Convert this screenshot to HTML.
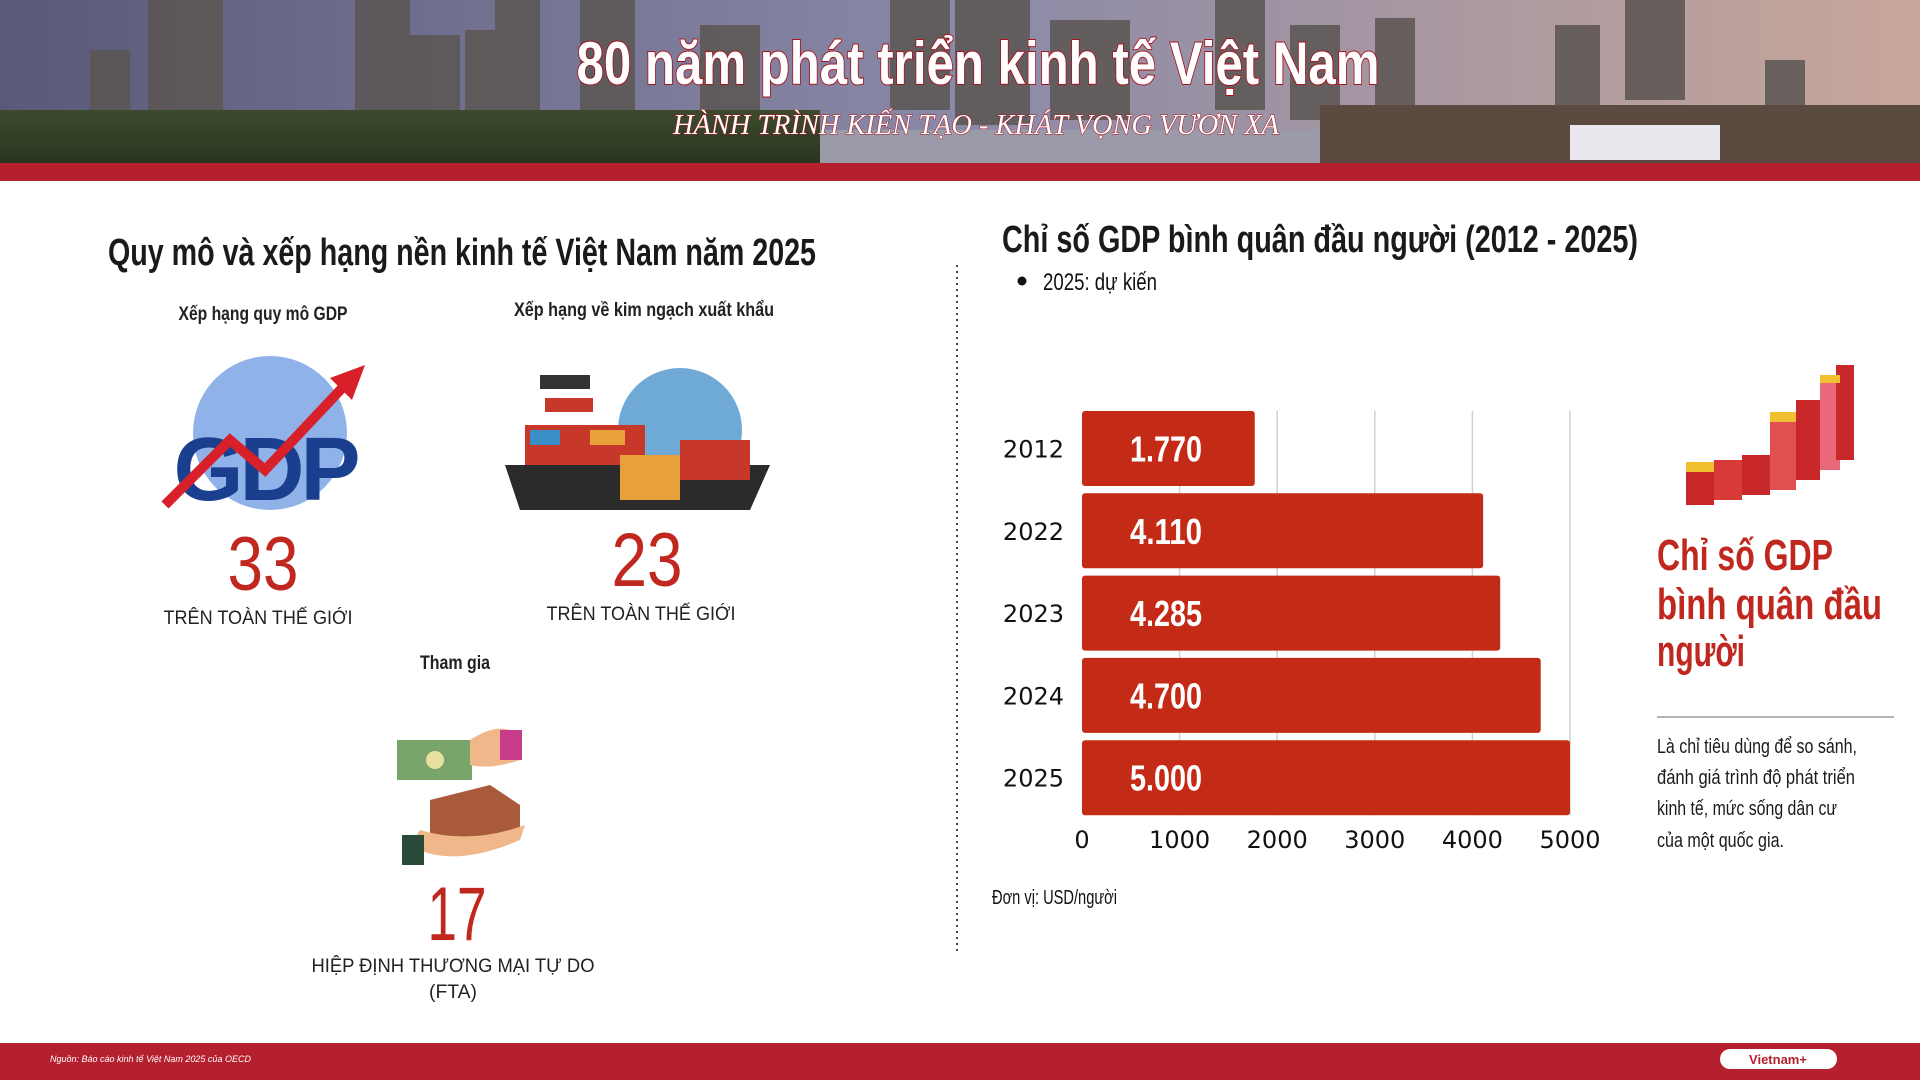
<!DOCTYPE html>
<html><head><meta charset="utf-8"><style>
html,body{margin:0;padding:0;width:1920px;height:1080px;overflow:hidden;background:#fff}
svg{display:block}
.c{font-family:"Liberation Sans Narrow","Liberation Sans",sans-serif}
</style></head><body>
<svg id="s" width="1920" height="1080" viewBox="0 0 1920 1080" xmlns="http://www.w3.org/2000/svg">
<defs>
<linearGradient id="sky" x1="0" y1="0" x2="1" y2="0"><stop offset="0" stop-color="#5a5a78"/><stop offset="0.5" stop-color="#8a8aa8"/><stop offset="1" stop-color="#c8a69a"/></linearGradient>
<linearGradient id="ground" x1="0" y1="0" x2="0" y2="1"><stop offset="0" stop-color="#3c4a2c"/><stop offset="1" stop-color="#2a3520"/></linearGradient>
</defs>
<g>
<rect x="0" y="0" width="1920" height="165" fill="url(#sky)"/>
<g fill="#5b5552" opacity="0.85">
<rect x="148" y="0" width="75" height="110"/><rect x="90" y="50" width="40" height="70"/><rect x="355" y="0" width="55" height="120"/><rect x="400" y="35" width="60" height="90"/><rect x="465" y="30" width="40" height="95"/><rect x="495" y="0" width="45" height="125"/><rect x="580" y="0" width="55" height="110"/><rect x="700" y="25" width="60" height="100"/><rect x="890" y="0" width="60" height="110"/><rect x="955" y="0" width="75" height="125"/><rect x="1050" y="20" width="80" height="100"/><rect x="1215" y="0" width="50" height="110"/><rect x="1290" y="25" width="50" height="95"/><rect x="1375" y="18" width="40" height="100"/><rect x="1555" y="25" width="45" height="90"/><rect x="1625" y="0" width="60" height="100"/><rect x="1765" y="60" width="40" height="60"/>
</g>
<rect x="0" y="110" width="820" height="55" fill="url(#ground)"/>
<rect x="820" y="130" width="500" height="35" fill="#9a9aa8"/>
<rect x="1320" y="105" width="600" height="60" fill="#5a4a40"/>
<rect x="1570" y="125" width="150" height="35" fill="#e8e8ee"/>
<rect x="0" y="163" width="1920" height="18" fill="#b5202e"/>
<text x="978" y="84" text-anchor="middle" textLength="803" lengthAdjust="spacingAndGlyphs" class="c" font-size="60" font-weight="bold" fill="#fff" stroke="#a8121c" stroke-width="2" paint-order="stroke">80 năm phát triển kinh tế Việt Nam</text>
<text x="976" y="134" text-anchor="middle" textLength="606" lengthAdjust="spacingAndGlyphs" font-family="Liberation Serif,serif" font-style="italic" font-size="28" fill="#fff" stroke="#a8121c" stroke-width="1" paint-order="stroke">HÀNH TRÌNH KIẾN TẠO - KHÁT VỌNG VƯƠN XA</text>
</g>

<line x1="957" y1="265" x2="957" y2="955" stroke="#444" stroke-width="2" stroke-dasharray="2,4"/>

<g>
<text x="462" y="265" text-anchor="middle" textLength="708" lengthAdjust="spacingAndGlyphs" class="c" font-size="38" font-weight="bold" fill="#1a1a1a">Quy mô và xếp hạng nền kinh tế Việt Nam năm 2025</text>
<text x="263" y="320" text-anchor="middle" textLength="169" lengthAdjust="spacingAndGlyphs" class="c" font-size="19" font-weight="bold" fill="#222">Xếp hạng quy mô GDP</text>
<g>
<circle cx="270" cy="433" r="77" fill="#8fb2e8"/>
<text x="265" y="500" text-anchor="middle" font-family="Liberation Sans,sans-serif" font-weight="bold" font-size="90" fill="#1b3f8f" letter-spacing="-4">GDP</text>
<polyline points="165,505 230,440 265,470 345,385" fill="none" stroke="#d8202a" stroke-width="10"/>
<polygon points="365,365 330,378 352,400" fill="#d8202a"/>
</g>
<text x="263" y="590" text-anchor="middle" textLength="71" lengthAdjust="spacingAndGlyphs" class="c" font-size="76" fill="#c0281f">33</text>
<text x="258" y="624" text-anchor="middle" textLength="189" lengthAdjust="spacingAndGlyphs" class="c" font-size="19" fill="#222">TRÊN TOÀN THẾ GIỚI</text>

<text x="644" y="316" text-anchor="middle" textLength="260" lengthAdjust="spacingAndGlyphs" class="c" font-size="19" font-weight="bold" fill="#222">Xếp hạng về kim ngạch xuất khẩu</text>
<g>
<circle cx="680" cy="430" r="62" fill="#6fa9d6"/>
<polygon points="505,465 770,465 750,510 520,510" fill="#2b2b2b"/>
<rect x="525" y="425" width="120" height="40" fill="#c8382a"/><rect x="530" y="430" width="30" height="15" fill="#3a8fc7"/><rect x="590" y="430" width="35" height="15" fill="#e8a13a"/>
<rect x="680" y="440" width="70" height="40" fill="#c8382a"/><rect x="620" y="455" width="60" height="45" fill="#e8a13a"/>
<rect x="540" y="375" width="50" height="14" fill="#333"/><rect x="545" y="398" width="48" height="14" fill="#c8382a"/>
</g>
<text x="647" y="586" text-anchor="middle" textLength="71" lengthAdjust="spacingAndGlyphs" class="c" font-size="76" fill="#c0281f">23</text>
<text x="641" y="620" text-anchor="middle" textLength="189" lengthAdjust="spacingAndGlyphs" class="c" font-size="19" fill="#222">TRÊN TOÀN THẾ GIỚI</text>

<text x="455" y="669" text-anchor="middle" textLength="70" lengthAdjust="spacingAndGlyphs" class="c" font-size="19" font-weight="bold" fill="#222">Tham gia</text>
<g>
<rect x="397" y="740" width="75" height="40" fill="#7aa56a"/><circle cx="435" cy="760" r="9" fill="#e8e0a0"/>
<path d="M470,740 Q500,720 520,735 L520,760 Q490,770 470,765Z" fill="#f0b88a"/>
<rect x="500" y="730" width="22" height="30" fill="#c83a8a"/>
<polygon points="430,800 490,785 520,805 520,840 460,855 430,835" fill="#a85a3a"/>
<path d="M410,845 Q450,870 520,840 L525,825 Q470,845 420,830Z" fill="#f0b88a"/>
<rect x="402" y="835" width="22" height="30" fill="#2a4a3a"/>
</g>
<text x="457" y="940" text-anchor="middle" textLength="59" lengthAdjust="spacingAndGlyphs" class="c" font-size="76" fill="#c0281f">17</text>
<text x="453" y="972" text-anchor="middle" textLength="283" lengthAdjust="spacingAndGlyphs" class="c" font-size="19" fill="#222">HIỆP ĐỊNH THƯƠNG MẠI TỰ DO</text>
<text x="453" y="998" text-anchor="middle" textLength="48" lengthAdjust="spacingAndGlyphs" class="c" font-size="19" fill="#222">(FTA)</text>
</g>

<g>
<text x="1002" y="252" textLength="636" lengthAdjust="spacingAndGlyphs" class="c" font-size="38" font-weight="bold" fill="#1a1a1a">Chỉ số GDP bình quân đầu người  (2012 - 2025)</text>
<circle cx="1022" cy="281" r="4.5" fill="#111"/>
<text x="1043" y="290" textLength="114" lengthAdjust="spacingAndGlyphs" class="c" font-size="24" fill="#111">2025: dự kiến</text>
<g id="chart"></g>
<text x="992" y="904" textLength="125" lengthAdjust="spacingAndGlyphs" class="c" font-size="20" fill="#111">Đơn vị: USD/người</text>

<g>
<rect x="1686" y="470" width="28" height="35" fill="#c8282a"/><rect x="1714" y="460" width="28" height="40" fill="#d83a3a"/><rect x="1742" y="455" width="28" height="40" fill="#c8282a"/><rect x="1770" y="420" width="26" height="70" fill="#e05050"/><rect x="1796" y="400" width="24" height="80" fill="#c8282a"/><rect x="1820" y="380" width="20" height="90" fill="#e86a7a"/><rect x="1836" y="365" width="18" height="95" fill="#c8282a"/>
<rect x="1686" y="462" width="28" height="10" fill="#f0c030"/><rect x="1770" y="412" width="26" height="10" fill="#f0c030"/><rect x="1820" y="375" width="20" height="8" fill="#f0c030"/>
</g>
<g class="c" font-size="44" font-weight="bold" fill="#c0281f">
<text x="1657" y="570" textLength="176" lengthAdjust="spacingAndGlyphs">Chỉ số GDP</text>
<text x="1657" y="619" textLength="225" lengthAdjust="spacingAndGlyphs">bình quân đầu</text>
<text x="1657" y="666" textLength="88" lengthAdjust="spacingAndGlyphs">người</text>
</g>
<line x1="1657" y1="717" x2="1894" y2="717" stroke="#999" stroke-width="1.5"/>
<g class="c" font-size="20" fill="#1a1a1a">
<text x="1657" y="753" textLength="200" lengthAdjust="spacingAndGlyphs">Là chỉ tiêu dùng để so sánh,</text>
<text x="1657" y="784" textLength="198" lengthAdjust="spacingAndGlyphs">đánh giá trình độ phát triển</text>
<text x="1657" y="815" textLength="180" lengthAdjust="spacingAndGlyphs">kinh tế, mức sống dân cư</text>
<text x="1657" y="847" textLength="127" lengthAdjust="spacingAndGlyphs">của một quốc gia.</text>
</g>
</g>

<g>
<rect x="0" y="1043" width="1920" height="37" fill="#b5202e"/>
<text x="50" y="1062" font-family="Liberation Sans,sans-serif" font-style="italic" font-size="9" fill="#fff">Nguồn: Báo cáo kinh tế Việt Nam 2025 của OECD</text>
<rect x="1720" y="1049" width="117" height="20" rx="10" fill="#fff"/>
<text x="1778" y="1064" text-anchor="middle" font-family="Liberation Sans,sans-serif" font-weight="bold" font-size="13" fill="#b5202e">Vietnam+</text>
</g>
</svg>
<script>
const years = ['2012','2022','2023','2024','2025'];
const gdpValues = [1770, 4110, 4285, 4700, 5000];
const valueLabels = ['1.770','4.110','4.285','4.700','5.000'];
const xTicks = [0, 1000, 2000, 3000, 4000, 5000];
const NS = 'http://www.w3.org/2000/svg';
const g = document.getElementById('chart');
const x0 = 1082, x1 = 1570, yTop = 411, maxV = 5000, band = 82.3, barH = 75;
const yBot = yTop + (years.length - 1) * band + barH;
const xs = v => x0 + (v / maxV) * (x1 - x0);
const ys = i => yTop + i * band;
function mk(tag, attrs) { const e = document.createElementNS(NS, tag); for (const k in attrs) e.setAttribute(k, attrs[k]); g.appendChild(e); return e; }
xTicks.forEach(t => {
  if (t > 0) {
    const l = mk('line', {x1: xs(t), x2: xs(t), y1: yTop, y2: yBot, stroke: '#d0d0d0', 'stroke-width': 1.5});
    
    
  }
  const tx = mk('text', {x: xs(t), y: yBot + 33, 'text-anchor': 'middle', 'font-family': 'DejaVu Sans,sans-serif', 'font-size': 24, fill: '#111'});
  tx.textContent = t;
  
  
});
years.forEach((y, i) => {
  const top = ys(i);
  const r = mk('rect', {x: x0, y: top, width: xs(gdpValues[i]) - x0, height: barH, rx: 3, fill: '#c32b16'});
  
  
  const yl = mk('text', {x: 1064, y: top + barH / 2 + 9, 'text-anchor': 'end', 'font-family': 'DejaVu Sans,sans-serif', 'font-size': 24, fill: '#111'});
  yl.textContent = y;
  
  
  const vl = mk('text', {x: 1130, y: top + barH / 2 + 13, class: 'c', 'font-size': 36, 'font-weight': 'bold', fill: '#fff', textLength: 72, lengthAdjust: 'spacingAndGlyphs'});
  vl.textContent = valueLabels[i];
  
  
});
</script>
</body></html>
